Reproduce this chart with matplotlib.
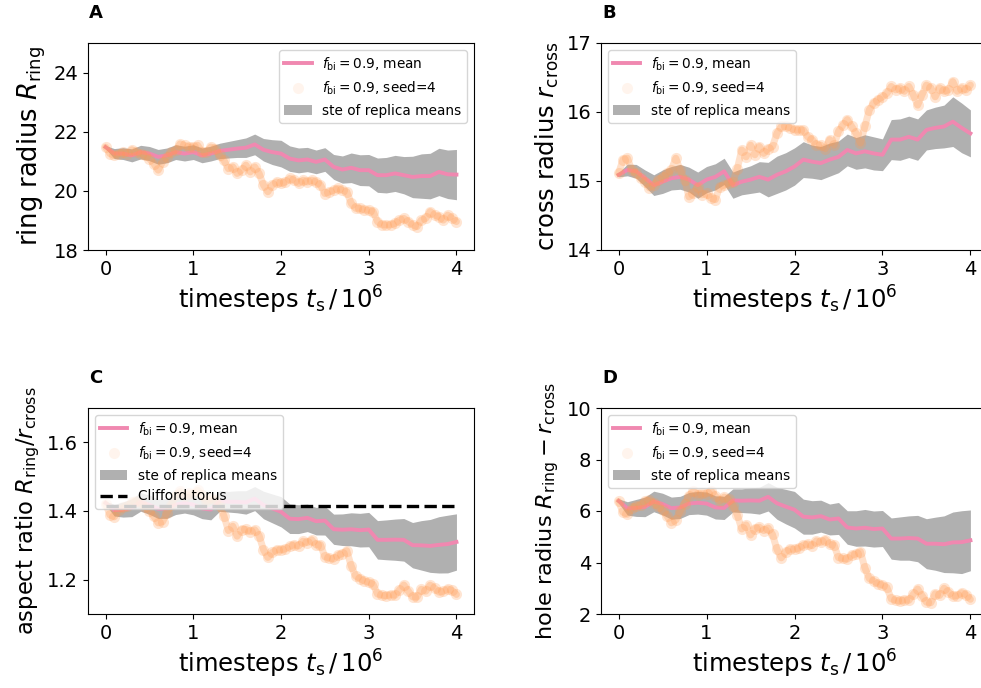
import numpy as np
import matplotlib
matplotlib.use("Agg")
import matplotlib.pyplot as plt

# ---------------- data ----------------
t_coarse = [round(0.1 * i, 2) for i in range(41)]      # timesteps / 1e6
t_fine = [round(0.05 * i, 2) for i in range(81)]

R_mean = [21.48, 21.26, 21.26, 21.20, 21.31, 21.26, 21.15, 21.20, 21.31, 21.26,
          21.31, 21.20, 21.26, 21.35, 21.39, 21.43, 21.46, 21.57, 21.39, 21.31,
          21.26, 21.09, 21.03, 21.06, 20.98, 21.06, 20.81, 20.72, 20.78, 20.70,
          20.70, 20.53, 20.53, 20.59, 20.53, 20.47, 20.50, 20.50, 20.64, 20.56,
          20.55]
R_ste = [0.05, 0.17, 0.20, 0.22, 0.23, 0.24, 0.25, 0.25, 0.25, 0.25,
         0.25, 0.25, 0.25, 0.26, 0.28, 0.30, 0.33, 0.35, 0.38, 0.42,
         0.45, 0.43, 0.42, 0.41, 0.40, 0.40, 0.42, 0.46, 0.50, 0.52,
         0.53, 0.58, 0.60, 0.61, 0.63, 0.70, 0.75, 0.77, 0.80, 0.82,
         0.85]
R_seed = [21.48, 21.26, 21.20, 21.26, 21.31, 21.26, 21.39, 21.31, 21.26, 21.20,
          21.09, 20.92, 20.70, 20.98, 21.15, 21.31, 21.37, 21.59, 21.54, 21.48,
          21.48, 21.54, 21.31, 21.31, 21.48, 21.43, 21.20, 21.03, 20.75, 20.81,
          20.59, 20.70, 20.87, 20.64, 20.81, 20.59, 20.20, 19.97, 20.20, 20.30,
          20.25, 20.30, 20.42, 20.36, 20.25, 20.36, 20.30, 20.36, 20.30, 20.20,
          19.91, 19.97, 20.02, 20.08, 20.02, 19.97, 19.58, 19.41, 19.41, 19.35,
          19.35, 19.30, 18.96, 18.85, 18.85, 18.85, 18.90, 19.01, 19.07, 18.96,
          18.85, 18.79, 19.01, 19.07, 19.30, 19.18, 19.13, 19.01, 19.18, 19.07,
          18.96]

r_mean = [15.09, 15.16, 15.14, 15.04, 14.94, 14.99, 15.04, 15.06, 15.02, 14.94,
          15.02, 15.06, 15.14, 14.94, 14.99, 15.02, 15.06, 15.02, 15.09, 15.14,
          15.21, 15.31, 15.28, 15.26, 15.31, 15.35, 15.45, 15.40, 15.43, 15.40,
          15.38, 15.60, 15.60, 15.64, 15.60, 15.74, 15.77, 15.79, 15.86, 15.77,
          15.69]
r_ste = [0.03, 0.085, 0.10, 0.12, 0.15, 0.17, 0.17, 0.18, 0.18, 0.19,
         0.19, 0.19, 0.19, 0.19, 0.19, 0.20, 0.22, 0.25, 0.27, 0.27,
         0.27, 0.26, 0.24, 0.24, 0.24, 0.23, 0.23, 0.23, 0.24, 0.24,
         0.23, 0.29, 0.30, 0.30, 0.30, 0.29, 0.30, 0.31, 0.36, 0.36,
         0.34]
r_seed = [15.11, 15.31, 15.33, 15.16, 15.11, 15.04, 14.99, 14.90, 14.94, 15.02,
          15.06, 15.11, 15.16, 15.33, 15.16, 15.02, 14.77, 14.82, 14.92, 14.80,
          14.82, 14.75, 14.73, 14.92, 14.94, 14.97, 14.99, 15.18, 15.45, 15.35,
          15.52, 15.38, 15.50, 15.40, 15.47, 15.50, 15.69, 15.79, 15.79, 15.77,
          15.74, 15.74, 15.74, 15.64, 15.60, 15.52, 15.52, 15.47, 15.60, 15.52,
          15.72, 15.81, 15.89, 15.79, 15.69, 15.55, 15.79, 16.03, 16.13, 16.18,
          16.22, 16.27, 16.37, 16.32, 16.35, 16.30, 16.37, 16.25, 16.10, 16.25,
          16.39, 16.35, 16.22, 16.35, 16.30, 16.32, 16.44, 16.30, 16.35, 16.32,
          16.39]

aspect_ste = [0.005, 0.017, 0.022, 0.026, 0.027, 0.028, 0.028, 0.029, 0.029, 0.029,
              0.030, 0.030, 0.030, 0.030, 0.030, 0.032, 0.034, 0.035, 0.040, 0.042,
              0.044, 0.043, 0.042, 0.040, 0.040, 0.042, 0.044, 0.046, 0.048, 0.049,
              0.050, 0.056, 0.058, 0.060, 0.062, 0.066, 0.072, 0.077, 0.082, 0.084,
              0.082]
hole_ste = [0.08, 0.26, 0.33, 0.38, 0.40, 0.42, 0.43, 0.43, 0.43, 0.44,
            0.45, 0.45, 0.45, 0.45, 0.46, 0.49, 0.52, 0.55, 0.62, 0.67,
            0.71, 0.68, 0.65, 0.62, 0.60, 0.62, 0.65, 0.69, 0.71, 0.70,
            0.70, 0.80, 0.84, 0.86, 0.90, 0.97, 1.03, 1.10, 1.18, 1.22,
            1.18]

clifford = np.sqrt(2.0)

# derived quantities (aspect ratio and hole radius from R and r)
tc = np.array(t_coarse)
tf = np.array(t_fine)
Rm, rm = np.array(R_mean), np.array(r_mean)
Rs, rs = np.array(R_seed), np.array(r_seed)
aspect_mean, aspect_seed = Rm / rm, Rs / rs
hole_mean, hole_seed = Rm - rm, Rs - rs

# ---------------- styling ----------------
PINK = '#f088b0'
ORANGE = '#ff9a50'
GREY = '#b0b0b0'

W, H = 981, 688
fig = plt.figure(figsize=(W / 100, H / 100), dpi=100)

def px_axes(left, top, right, bottom):
    return fig.add_axes([left / W, 1 - bottom / H, (right - left) / W, (bottom - top) / H])

panels = [
    dict(box=(88, 43, 474, 250), mean=Rm, seed=Rs, ste=np.array(R_ste), ylim=(18, 25),
         yticks=[18, 20, 22, 24], ylabel=r'ring radius $R_\mathrm{ring}$', letter='A',
         loc='upper right', cliff=False, yfs=18.5),
    dict(box=(601, 43, 988, 250), mean=rm, seed=rs, ste=np.array(r_ste), ylim=(14, 17),
         yticks=[14, 15, 16, 17], ylabel=r'cross radius $r_\mathrm{cross}$', letter='B',
         loc='upper left', cliff=False, yfs=17.5),
    dict(box=(88, 408, 474, 614), mean=aspect_mean, seed=aspect_seed, ste=np.array(aspect_ste),
         ylim=(1.1, 1.7), yticks=[1.2, 1.4, 1.6],
         ylabel=r'aspect ratio $R_\mathrm{ring}/r_\mathrm{cross}$', letter='C',
         loc='upper left', cliff=True, yfs=16.3),
    dict(box=(601, 408, 988, 614), mean=hole_mean, seed=hole_seed, ste=np.array(hole_ste),
         ylim=(2, 10), yticks=[2, 4, 6, 8, 10],
         ylabel=r'hole radius $R_\mathrm{ring} - r_\mathrm{cross}$', letter='D',
         loc='upper left', cliff=False, yfs=16.2),
]

for p in panels:
    ax = px_axes(*p['box'])
    ax.fill_between(tc, p['mean'] - p['ste'], p['mean'] + p['ste'], color=GREY,
                    linewidth=0, zorder=1, label='ste of replica means')
    ax.plot(tc, p['mean'], color=PINK, lw=2.8, zorder=2,
            label=r'$f_\mathrm{bi} = 0.9$, mean')
    # soft trail under the seed markers
    ax.plot(tf, p['seed'], '-', color=ORANGE, alpha=0.3, lw=5,
            solid_capstyle='round', solid_joinstyle='round', zorder=3)
    ax.plot(tf, p['seed'], 'o', color=ORANGE, alpha=0.25, ms=8, mec='none', zorder=3,
            label=r'$f_\mathrm{bi} = 0.9$, seed=4')
    if p['cliff']:
        ax.plot([tc[0], tc[-1]], [clifford, clifford], 'k--', lw=2.4, zorder=4,
                label='Clifford torus')
    ax.set_xlim(-0.2, 4.2)
    ax.set_ylim(*p['ylim'])
    ax.set_xticks([0, 1, 2, 3, 4])
    ax.set_yticks(p['yticks'])
    ax.tick_params(labelsize=14)
    ax.set_xlabel(r'timesteps $t_\mathrm{s}\,/\,10^6$', fontsize=17.5)
    ax.set_ylabel(p['ylabel'], fontsize=p['yfs'])
    handles, labels = ax.get_legend_handles_labels()
    order = [1, 2, 0] + ([3] if p['cliff'] else [])
    leg = ax.legend([handles[i] for i in order], [labels[i] for i in order],
                    loc=p['loc'], fontsize=9.8)
    leg.legend_handles[1].set_alpha(0.1)
    l, t, r, b = p['box']
    fig.text((l + 1) / W, 1 - (t - 30) / H, p['letter'], fontsize=13, fontweight='bold',
             ha='left', va='center')

fig.savefig('out.png', dpi=100)
